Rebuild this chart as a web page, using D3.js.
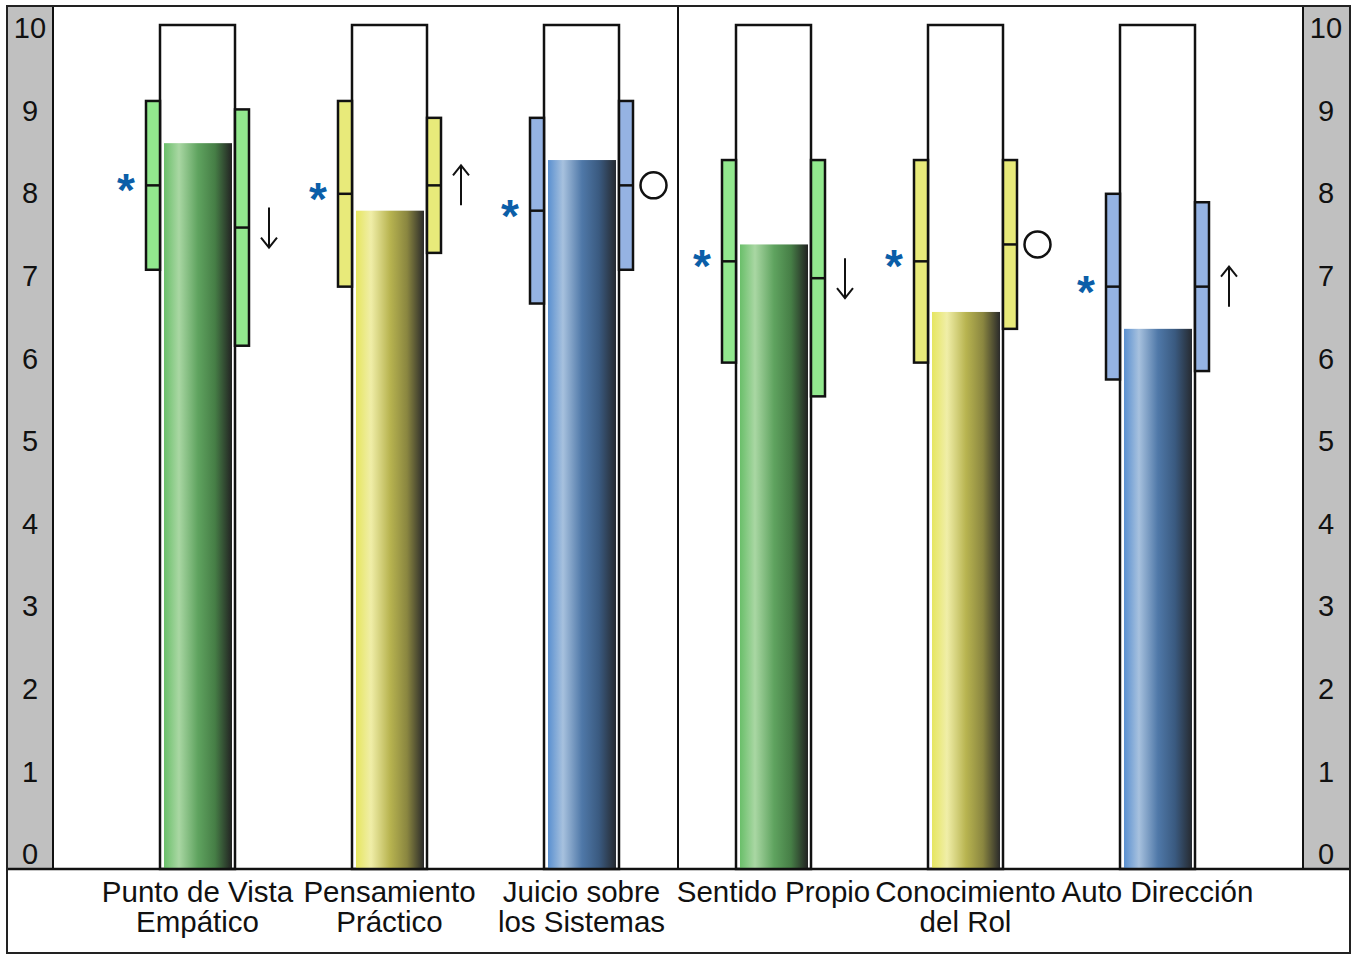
<!DOCTYPE html>
<html>
  <head>
    <meta charset="utf-8" />
    <title>Perfil</title>
    <script src="https://cdn.jsdelivr.net/npm/d3@7"></script>
    <style>
      html,
      body {
        margin: 0;
        padding: 0;
        background: #fff;
      }
      svg text {
        font-family: "Liberation Sans", Arial, sans-serif;
      }
    </style>
  </head>
  <body>
    <svg width="1355" height="955" id="mainsvg"></svg>
    <script>
      // data
      const categories = [
        ["Punto de Vista", "Empático"],
        ["Pensamiento", "Práctico"],
        ["Juicio sobre", "los Sistemas"],
        ["Sentido Propio"],
        ["Conocimiento", "del Rol"],
        ["Auto Dirección"],
      ];
      const scores = [8.6, 7.8, 8.4, 7.4, 6.6, 6.4];
      const leftLow = [7.1, 6.9, 6.7, 6.0, 6.0, 5.8];
      const leftMid = [8.1, 8.0, 7.8, 7.2, 7.2, 6.9];
      const leftHigh = [9.1, 9.1, 8.9, 8.4, 8.4, 8.0];
      const rightLow = [6.2, 7.3, 7.1, 5.6, 6.4, 5.9];
      const rightMid = [7.6, 8.1, 8.1, 7.0, 7.4, 6.9];
      const rightHigh = [9.0, 8.9, 9.1, 8.4, 8.4, 7.9];
      const markers = ["down", "up", "circle", "down", "circle", "up"];
      const colorKeys = ["green", "yellow", "blue", "green", "yellow", "blue"];
      const tickValues = [0, 1, 2, 3, 4, 5, 6, 7, 8, 9, 10];

      const boxFill = { green: "#92e88e", yellow: "#e8ea7a", blue: "#95b3e3" };
      const barStops = {
        green: ["#6abf6a", "#a9d7a3", "#5fa35f", "#467e46", "#222222"],
        yellow: ["#e6e660", "#f0eea8", "#b8b450", "#8a8640", "#2a2a2a"],
        blue: ["#5a90d0", "#a7c1de", "#4f78a8", "#3a5a80", "#262a30"],
      };
      const stopOffsets = ["0%", "22%", "50%", "75%", "100%"];

      const svg = d3.select("#mainsvg");
      const frame = { left: 7, right: 1350, top: 6, bottom: 953 };
      const plotBottom = 869;
      const bandW = 46;

      const ids = d3.range(categories.length);
      const x = d3.scaleBand().domain(ids).range([101.5, 1253.5]).padding(0);
      const cx = (i) => x(i) + x.bandwidth() / 2;
      const y = d3.scaleLinear().domain([0, 10]).range([plotBottom, 25]);
      const yLabel = d3.scaleLinear().domain([0, 10]).range([854, 28]);

      // gradients
      const defs = svg.append("defs");
      Object.keys(barStops).forEach((k) => {
        const g = defs
          .append("linearGradient")
          .attr("id", "grad-" + k)
          .attr("x1", "0%")
          .attr("x2", "100%")
          .attr("y1", "0%")
          .attr("y2", "0%");
        g.selectAll("stop")
          .data(barStops[k])
          .join("stop")
          .attr("offset", (d, i) => stopOffsets[i])
          .attr("stop-color", (d) => d);
      });

      // side bands
      svg
        .append("rect")
        .attr("x", frame.left)
        .attr("y", frame.top)
        .attr("width", bandW)
        .attr("height", plotBottom - frame.top)
        .attr("fill", "#c0c0c0")
        .attr("stroke", "#111")
        .attr("stroke-width", 2);
      svg
        .append("rect")
        .attr("x", frame.right - bandW - 1)
        .attr("y", frame.top)
        .attr("width", bandW + 1)
        .attr("height", plotBottom - frame.top)
        .attr("fill", "#c0c0c0")
        .attr("stroke", "#111")
        .attr("stroke-width", 2);

      // tick labels on both sides
      [frame.left + bandW / 2, frame.right - bandW / 2 - 1].forEach((tx) => {
        svg
          .append("g")
          .selectAll("text")
          .data(tickValues)
          .join("text")
          .attr("x", tx)
          .attr("y", (d) => yLabel(d))
          .attr("dy", "0.35em")
          .attr("text-anchor", "middle")
          .attr("font-size", 29)
          .attr("fill", "#111")
          .text((d) => d);
      });

      // divider
      svg
        .append("line")
        .attr("x1", 678)
        .attr("x2", 678)
        .attr("y1", frame.top)
        .attr("y2", plotBottom)
        .attr("stroke", "#111")
        .attr("stroke-width", 2);

      const cols = svg
        .append("g")
        .selectAll("g")
        .data(ids)
        .join("g");

      // tubes
      cols
        .append("rect")
        .attr("x", (i) => cx(i) - 37.5)
        .attr("y", y(10))
        .attr("width", 75)
        .attr("height", y(0) - y(10))
        .attr("fill", "#fff")
        .attr("stroke", "#111")
        .attr("stroke-width", 2.5);

      // bars
      cols
        .append("rect")
        .attr("x", (i) => cx(i) - 33.5)
        .attr("y", (i) => y(scores[i]))
        .attr("width", 68)
        .attr("height", (i) => y(0) - y(scores[i]))
        .attr("fill", (i) => `url(#grad-${colorKeys[i]})`);

      // range boxes
      const boxW = 14;
      const drawBox = (xs, low, mid, high) => {
        cols
          .append("rect")
          .attr("x", xs)
          .attr("y", (i) => y(high[i]))
          .attr("width", boxW)
          .attr("height", (i) => y(low[i]) - y(high[i]))
          .attr("fill", (i) => boxFill[colorKeys[i]])
          .attr("stroke", "#111")
          .attr("stroke-width", 2.5);
        cols
          .append("line")
          .attr("x1", xs)
          .attr("x2", (i) => xs(i) + boxW)
          .attr("y1", (i) => y(mid[i]))
          .attr("y2", (i) => y(mid[i]))
          .attr("stroke", "#111")
          .attr("stroke-width", 2.5);
      };
      drawBox((i) => cx(i) - 37.5 - boxW, leftLow, leftMid, leftHigh);
      drawBox((i) => cx(i) + 37.5, rightLow, rightMid, rightHigh);

      // stars
      cols
        .append("text")
        .attr("x", (i) => cx(i) - 71.5)
        .attr("y", (i) => y(leftMid[i]) + 21)
        .attr("text-anchor", "middle")
        .attr("font-size", 46)
        .attr("font-weight", "bold")
        .attr("fill", "#0b5ea8")
        .text("*");

      // change markers
      cols.each(function (i) {
        const g = d3.select(this);
        const mx = cx(i) + 71.5;
        const my = y(rightMid[i]);
        if (markers[i] === "circle") {
          g.append("circle")
            .attr("cx", mx + 0.5)
            .attr("cy", my)
            .attr("r", 13)
            .attr("fill", "none")
            .attr("stroke", "#111")
            .attr("stroke-width", 2.5);
        } else {
          const s = markers[i] === "down" ? 1 : -1;
          const tip = my + 20 * s;
          g.append("line")
            .attr("x1", mx)
            .attr("x2", mx)
            .attr("y1", my - 20 * s)
            .attr("y2", tip)
            .attr("stroke", "#111")
            .attr("stroke-width", 2);
          g.append("path")
            .attr(
              "d",
              `M${mx - 8},${tip - 10 * s} L${mx},${tip} L${mx + 8},${tip - 10 * s}`
            )
            .attr("fill", "none")
            .attr("stroke", "#111")
            .attr("stroke-width", 2);
        }
      });

      // category labels
      cols
        .append("text")
        .attr("text-anchor", "middle")
        .attr("font-size", 29.5)
        .attr("fill", "#111")
        .selectAll("tspan")
        .data((i) => categories[i].map((t) => ({ t, i })))
        .join("tspan")
        .attr("x", (d) => cx(d.i))
        .attr("y", (d, k) => 902 + k * 30)
        .text((d) => d.t);

      svg
        .append("line")
        .attr("x1", frame.left)
        .attr("x2", frame.right)
        .attr("y1", plotBottom)
        .attr("y2", plotBottom)
        .attr("stroke", "#111")
        .attr("stroke-width", 2.5);

      // outer frame
      svg
        .append("rect")
        .attr("x", frame.left)
        .attr("y", frame.top)
        .attr("width", frame.right - frame.left)
        .attr("height", frame.bottom - frame.top)
        .attr("fill", "none")
        .attr("stroke", "#222")
        .attr("stroke-width", 2);
    </script>
  </body>
</html>
